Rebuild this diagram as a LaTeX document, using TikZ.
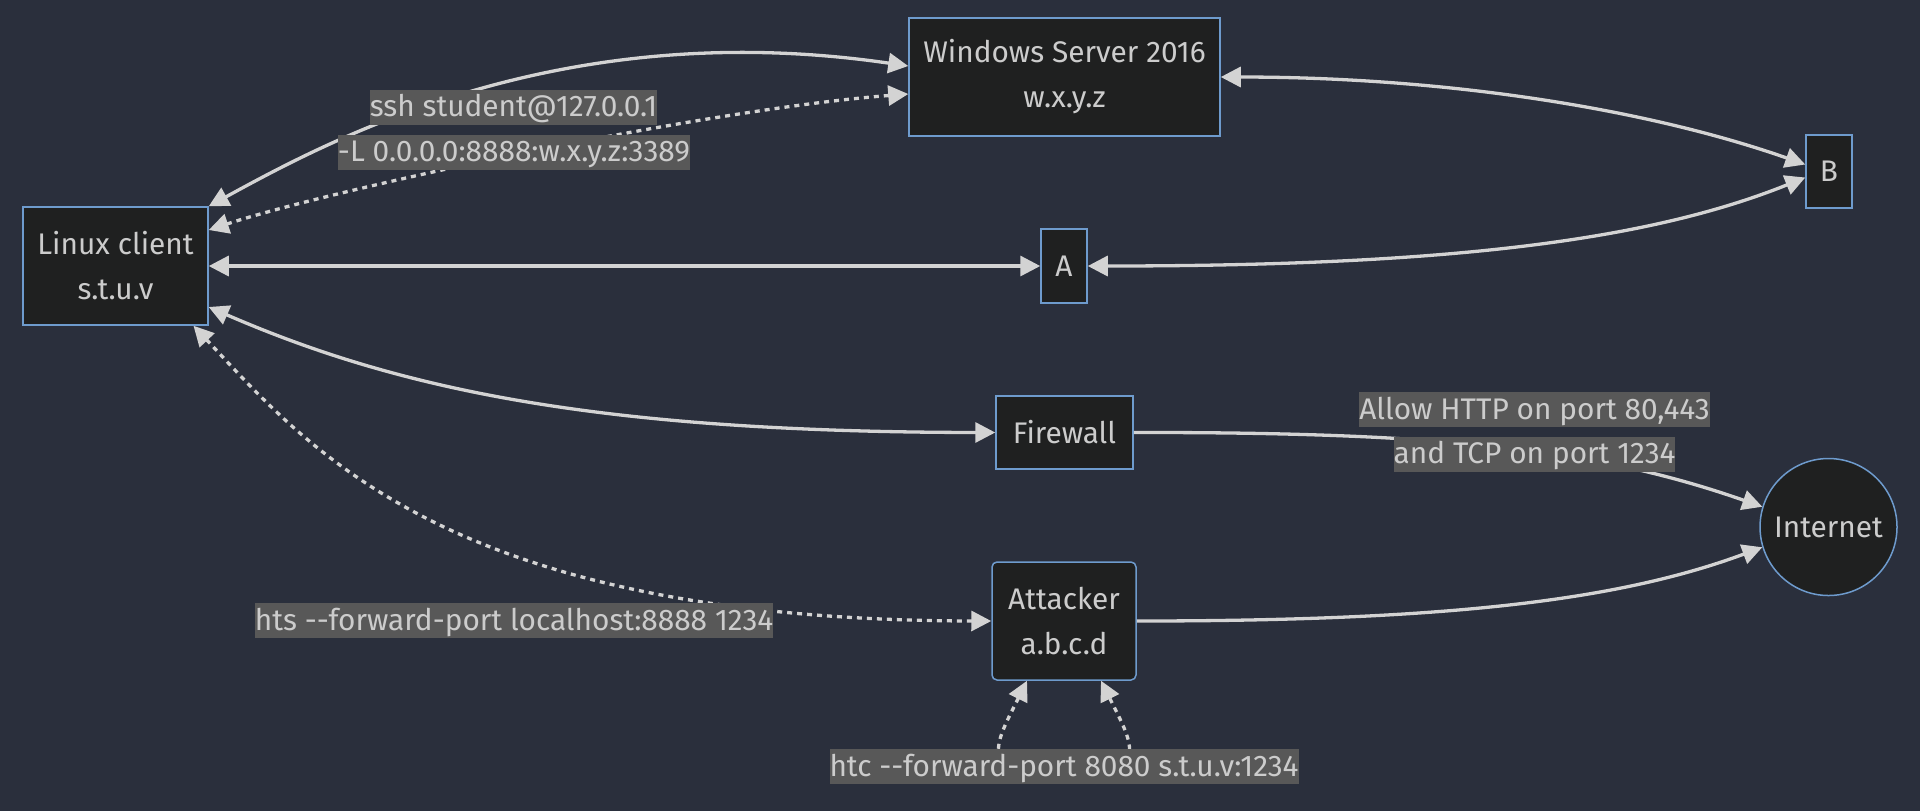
\documentclass[tikz,border=0pt]{standalone}
\usepackage{fontspec}
\setmainfont{Fira Sans}[Ligatures=TeXOff]
\usetikzlibrary{arrows.meta,calc,shapes.geometric}
\definecolor{bgc}{RGB}{42,47,60}
\definecolor{nodefill}{HTML}{1F2020}
\definecolor{nodeborder}{RGB}{110,155,205}
\definecolor{edgec}{HTML}{D3D3D3}
\definecolor{txtc}{HTML}{CCCCCC}
\definecolor{lblbg}{HTML}{585858}
\begin{document}
\begin{tikzpicture}[x=0.5pt,y=-0.5pt,
  box/.style={draw=nodeborder, line width=0.75pt, fill=nodefill, text=txtc,
    font=\fontsize{14.9}{22.5}\selectfont, align=center, inner sep=0pt},
  edge/.style={draw=edgec, line width=1.65pt, >={Triangle[length=10pt,width=10pt]}},
  dotline/.style={dash pattern=on 2.5pt off 2.5pt},
  lbl/.style={fill=lblbg, text=txtc, font=\fontsize{14.9}{16}\selectfont,
    inner xsep=0pt, inner ysep=0pt, text height=13.5pt, text depth=4pt}]
\fill[bgc] (0,0) rectangle (1920,811);
\useasboundingbox (0,0) rectangle (1920,811);
% nodes
\node[box, minimum width=92.5pt, minimum height=59pt] (linux) at (115.5,266) {Linux client\\s.t.u.v};
\node[box, minimum width=155.5pt, minimum height=59pt] (win) at (1064.5,77) {Windows Server 2016\\w.x.y.z};
\node[box, minimum width=23pt, minimum height=36.5pt] (B) at (1829,171.5) {B};
\node[box, minimum width=23pt, minimum height=37pt] (A) at (1064,266) {A};
\node[box, minimum width=68.5pt, minimum height=36.5pt] (fw) at (1064.5,432.5) {Firewall};
\node[box, rounded corners=2.5pt, minimum width=72pt, minimum height=59pt] (att) at (1064,621) {Attacker\\a.b.c.d};
\node[box, circle, minimum size=68.5pt] (inet) at (1828.5,527) {Internet};
% edges
\draw[edge,<->] (linux.north east) .. controls (330,140) and (560,15) .. ($(win.west)+(0,-11)$);
\draw[edge,dotline,<->] ($(linux.east)+(0,-36)$) .. controls (330,190) and (700,110) .. ($(win.west)+(0,17)$);
\draw[edge,<->] (linux.east) -- (A.west);
\draw[edge,<->] (A.east) .. controls (1450,266) and (1650,240) .. ($(B.west)+(0,6)$);
\draw[edge,<->] (win.east) .. controls (1450,77) and (1650,110) .. ($(B.west)+(0,-7)$);
\draw[edge,<->] ($(linux.east)+(0,41)$) .. controls (400,390) and (600,432) .. (fw.west);
\draw[edge,->] (fw.east) .. controls (1450,432) and (1600,450) .. (inet.163);
\draw[edge,->] (att.east) .. controls (1450,621) and (1620,600) .. (inet.197);
\draw[edge,dotline,<->] ($(linux.south)+(78,0)$) .. controls (310,450) and (450,620) .. (att.west);
\draw[edge,dotline,<->] ($(att.south)+(-37,0)$) .. controls (995,745) and (975,775) .. (1064,775)
  .. controls (1153,775) and (1133,745) .. ($(att.south)+(37,0)$);
% labels
\node[lbl] (l1a) at (513.5,107) {ssh student@127.0.0.1};
\node[lbl] (l1b) at (514,152) {-L 0.0.0.0:8888:w.x.y.z:3389};
\node[lbl] (l2a) at (1534.5,409.5) {Allow HTTP on port 80,443};
\node[lbl] (l2b) at (1534.5,454) {and TCP on port 1234};
\node[lbl] (l3) at (514,620.5) {hts --forward-port localhost:8888 1234};
\node[lbl] (l4) at (1064,766.5) {htc --forward-port 8080 s.t.u.v:1234};
\end{tikzpicture}
\end{document}
